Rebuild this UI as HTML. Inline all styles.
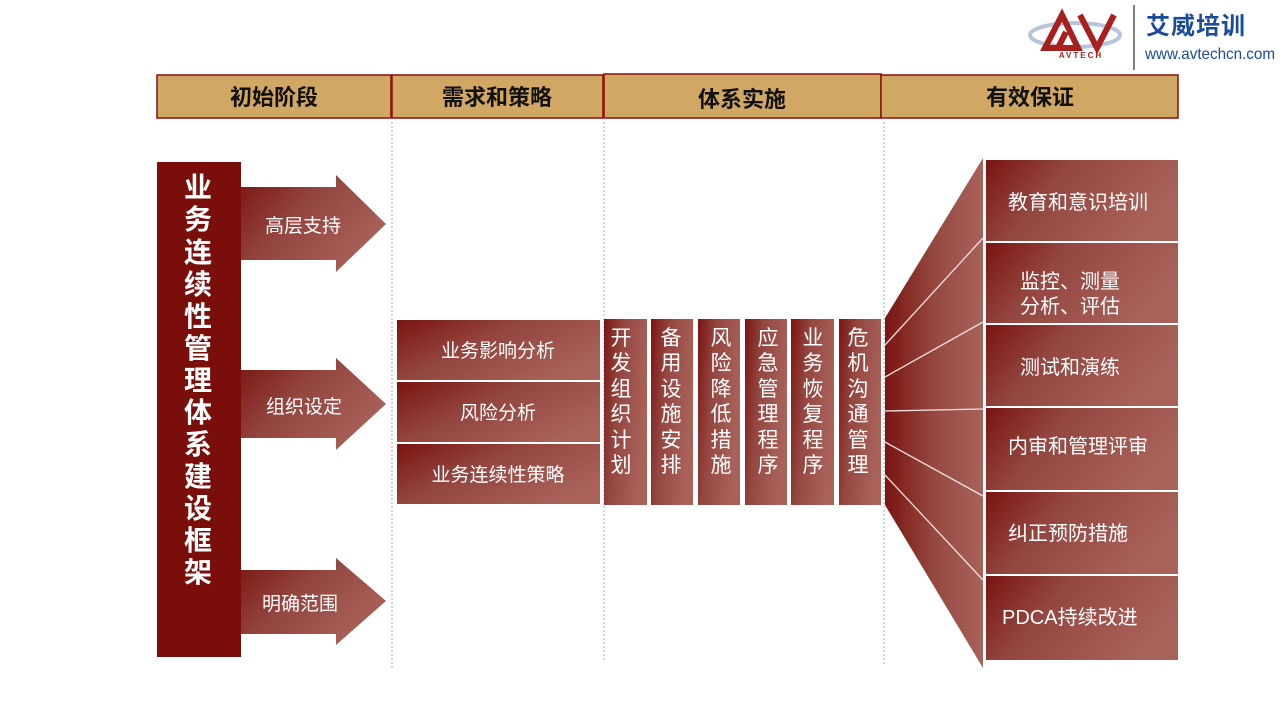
<!DOCTYPE html>
<html><head><meta charset="utf-8"><style>
body{margin:0;width:1280px;height:720px;background:#fff;overflow:hidden;font-family:"Liberation Sans","Noto Sans CJK SC",sans-serif}
svg{position:absolute;left:0;top:0}
</style></head><body>
<svg width="1280" height="720" viewBox="0 0 1280 720" xmlns="http://www.w3.org/2000/svg" font-family="Liberation Sans, Noto Sans CJK SC, sans-serif">
<defs>
<linearGradient id="g" x1="0" y1="0" x2="1" y2="0.6">
<stop offset="0" stop-color="#7a1412"/><stop offset="0.45" stop-color="#93443e"/><stop offset="1" stop-color="#a8625a"/></linearGradient>
<linearGradient id="gv" x1="0" y1="0" x2="1" y2="0.35">
<stop offset="0" stop-color="#7a1412"/><stop offset="0.4" stop-color="#944640"/><stop offset="1" stop-color="#a8625a"/></linearGradient>
<linearGradient id="gf" x1="0" y1="0" x2="1" y2="0">
<stop offset="0" stop-color="#7a1412"/><stop offset="0.5" stop-color="#954840"/><stop offset="1" stop-color="#a8625a"/></linearGradient>
</defs>
<!-- logo -->
<ellipse cx="1075" cy="35" rx="45" ry="12" fill="none" stroke="#b8c4dc" stroke-width="4"/>
<path d="M1045 48 L1062 15 L1078 48 Z M1058 48 L1066 32" fill="none" stroke="#a8201e" stroke-width="6"/>
<path d="M1080 15 L1097 48 L1114 15" fill="none" stroke="#a8201e" stroke-width="6"/>
<text x="1081" y="58" font-size="8" font-weight="bold" fill="#a8201e" text-anchor="middle" letter-spacing="2">AVTECH</text>
<line x1="1134" y1="5" x2="1134" y2="70" stroke="#555" stroke-width="1.5"/>
<text x="1146" y="34" font-size="24" font-weight="bold" fill="#1a4a9a" letter-spacing="1">艾威培训</text>
<text x="1145" y="59" font-size="16" fill="#1a4a9a" textLength="130" lengthAdjust="spacingAndGlyphs">www.avtechcn.com</text>
<!-- header -->
<g fill="#d1a764" stroke="#8a0e0a" stroke-width="1.5">
<rect x="157" y="75" width="234" height="43"/><rect x="392" y="75" width="211" height="43"/>
<rect x="604" y="74" width="277" height="44"/><rect x="881" y="75" width="297" height="43"/></g>
<g font-size="22" font-weight="bold" fill="#111" text-anchor="middle">
<text x="274" y="105">初始阶段</text><text x="497" y="105">需求和策略</text>
<text x="742" y="107">体系实施</text><text x="1030" y="105">有效保证</text></g>
<g stroke="#aaa" stroke-dasharray="2,2" stroke-width="1">
<line x1="392" y1="118" x2="392" y2="668"/><line x1="604" y1="118" x2="604" y2="662"/><line x1="884" y1="118" x2="884" y2="665"/></g>
<!-- left -->
<rect x="157" y="162" width="84" height="495" fill="#7a0e0a"/>
<g font-size="28" font-weight="bold" fill="#fff" text-anchor="middle">
<text x="198" y="197">业</text><text x="198" y="229">务</text><text x="198" y="262">连</text><text x="198" y="294">续</text><text x="198" y="326">性</text><text x="198" y="358">管</text><text x="198" y="390">理</text><text x="198" y="422">体</text><text x="198" y="454">系</text><text x="198" y="486">建</text><text x="198" y="518">设</text><text x="198" y="550">框</text><text x="198" y="582">架</text></g>
<g fill="url(#g)">
<path d="M241 187 H336 V175 L386 224 L336 272 V260 H241 Z"/>
<path d="M241 370 H336 V358 L386 404 L336 450 V438 H241 Z"/>
<path d="M241 570 H336 V558 L386 601 L336 645 V634 H241 Z"/></g>
<g font-size="19" fill="#fff" text-anchor="middle">
<text x="303" y="232">高层支持</text><text x="304" y="413">组织设定</text><text x="300" y="610">明确范围</text></g>
<!-- middle -->
<g fill="url(#g)"><rect x="397" y="320" width="203" height="60"/><rect x="397" y="382" width="203" height="60"/><rect x="397" y="444" width="203" height="60"/></g>
<g font-size="19" fill="#fff" text-anchor="middle">
<text x="498" y="357">业务影响分析</text><text x="498" y="419">风险分析</text><text x="498" y="481">业务连续性策略</text></g>
<!-- verticals -->
<g fill="url(#gv)">
<rect x="604" y="319" width="43" height="186"/><rect x="651" y="319" width="42" height="186"/><rect x="698" y="319" width="42" height="186"/><rect x="745" y="319" width="42" height="186"/><rect x="791" y="319" width="43" height="186"/><rect x="839" y="319" width="42" height="186"/></g>
<g font-size="21" fill="#fff" text-anchor="middle">
<text x="621" y="345">开</text><text x="621" y="370">发</text><text x="621" y="396">组</text><text x="621" y="421">织</text><text x="621" y="447">计</text><text x="621" y="472">划</text>
<text x="671" y="345">备</text><text x="671" y="370">用</text><text x="671" y="396">设</text><text x="671" y="421">施</text><text x="671" y="447">安</text><text x="671" y="472">排</text>
<text x="721" y="345">风</text><text x="721" y="370">险</text><text x="721" y="396">降</text><text x="721" y="421">低</text><text x="721" y="447">措</text><text x="721" y="472">施</text>
<text x="768" y="345">应</text><text x="768" y="370">急</text><text x="768" y="396">管</text><text x="768" y="421">理</text><text x="768" y="447">程</text><text x="768" y="472">序</text>
<text x="813" y="345">业</text><text x="813" y="370">务</text><text x="813" y="396">恢</text><text x="813" y="421">复</text><text x="813" y="447">程</text><text x="813" y="472">序</text>
<text x="858" y="345">危</text><text x="858" y="370">机</text><text x="858" y="396">沟</text><text x="858" y="421">通</text><text x="858" y="447">管</text><text x="858" y="472">理</text></g>
<!-- fan -->
<path d="M885 318 L983 158 V668 L885 505 Z" fill="url(#gf)"/>
<g stroke="#f0e0e0" stroke-width="1.3">
<line x1="885" y1="345" x2="983" y2="238"/><line x1="885" y1="377" x2="983" y2="322"/><line x1="885" y1="411" x2="983" y2="409"/>
<line x1="885" y1="442" x2="983" y2="496"/><line x1="885" y1="475" x2="983" y2="580"/></g>
<g fill="url(#gv)">
<rect x="986" y="160" width="192" height="81"/><rect x="986" y="243" width="192" height="80"/><rect x="986" y="325" width="192" height="81"/><rect x="986" y="408" width="192" height="82"/><rect x="986" y="492" width="192" height="82"/><rect x="986" y="576" width="192" height="84"/></g>
<g font-size="20" fill="#fff">
<text x="1008" y="209">教育和意识培训</text><text x="1020" y="288">监控、测量</text><text x="1020" y="313">分析、评估</text>
<text x="1020" y="374">测试和演练</text><text x="1008" y="453">内审和管理评审</text><text x="1008" y="540">纠正预防措施</text><text x="1002" y="624">PDCA持续改进</text></g>
</svg>
</body></html>
